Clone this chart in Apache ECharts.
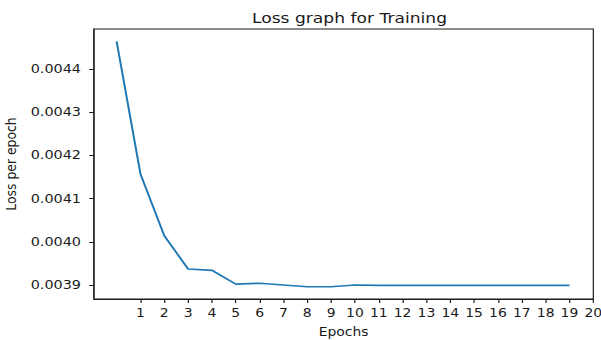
<!DOCTYPE html>
<html>
<head>
<meta charset="utf-8">
<script src="https://cdn.jsdelivr.net/npm/echarts@6/dist/echarts.min.js"></script>
<style>
  html, body { margin: 0; padding: 0; background: #fff; overflow: hidden; }
  #c { width: 509px; height: 340px; transform: scaleX(1.1807); transform-origin: 0 0; }
</style>
</head>
<body>
<div id="c"></div>
<script>
const titleText = 'Loss graph for Training';
const xName = 'Epochs';
const yName = 'Loss per epoch';
const epochs = [0, 1, 2, 3, 4, 5, 6, 7, 8, 9, 10, 11, 12, 13, 14, 15, 16, 17, 18, 19];
const loss = [0.004464, 0.004157, 0.004014, 0.003937, 0.003934, 0.003902, 0.003904, 0.003900, 0.003896, 0.003896,
              0.003900, 0.003899, 0.003899, 0.003899, 0.003899, 0.003899, 0.003899, 0.003899, 0.003899, 0.003899];
const xTicks = [1, 2, 3, 4, 5, 6, 7, 8, 9, 10, 11, 12, 13, 14, 15, 16, 17, 18, 19, 20];
const yTicks = [0.0039, 0.0040, 0.0041, 0.0042, 0.0043, 0.0044];

// matplotlib-like 5% margins
const yLo = Math.min(...loss), yHi = Math.max(...loss), yR = yHi - yLo;
const yMin = yLo - 0.05 * yR, yMax = yHi + 0.05 * yR;
const xMin = epochs[0] - 0.05 * (epochs[epochs.length - 1] - epochs[0]);
const xMax = Math.max(xTicks[xTicks.length - 1], epochs[epochs.length - 1]);

const font = 'DejaVu Sans';
const ink = '#1a1a1a';
const chart = echarts.init(document.getElementById('c'), null, { renderer: 'svg' });
chart.setOption({
  animation: false,
  title: {
    text: titleText, left: 291, top: 5, textAlign: 'center',
    textStyle: { fontFamily: font, fontSize: 14.5, fontWeight: 'normal', color: ink }
  },
  grid: { left: 79.6, top: 29, width: 422.9, height: 270, show: true, borderColor: ink, borderWidth: 1,
    containLabel: false, outerBoundsMode: 'none' },
  xAxis: {
    type: 'value', min: xMin, max: xMax,
    name: xName, nameLocation: 'middle', nameGap: 27,
    nameTextStyle: { fontFamily: font, fontSize: 11.8, color: ink },
    axisLine: { show: true, onZero: false, lineStyle: { color: ink, width: 1 } },
    axisTick: { show: true, customValues: xTicks, length: 4, inside: false, lineStyle: { color: ink } },
    axisLabel: { customValues: xTicks, margin: 8, fontFamily: font, fontSize: 11.8, color: ink },
    splitLine: { show: false }
  },
  yAxis: {
    type: 'value', min: yMin, max: yMax,
    name: yName, nameLocation: 'middle', nameGap: 58, nameRotate: 90,
    nameTextStyle: { fontFamily: font, fontSize: 12.4, color: ink },
    axisLine: { show: true, onZero: false, lineStyle: { color: ink, width: 1 } },
    axisTick: { show: true, customValues: yTicks, length: 4, inside: false, lineStyle: { color: ink } },
    axisLabel: { customValues: yTicks, margin: 11, fontFamily: font, fontSize: 12.2, color: ink,
      formatter: v => v.toFixed(4) },
    splitLine: { show: false }
  },
  series: [{
    type: 'line',
    data: epochs.map((e, i) => [e, loss[i]]),
    showSymbol: false, symbol: 'none',
    lineStyle: { color: '#1f77b4', width: 1.7 },
    itemStyle: { color: '#1f77b4' }
  }]
});
</script>
</body>
</html>
